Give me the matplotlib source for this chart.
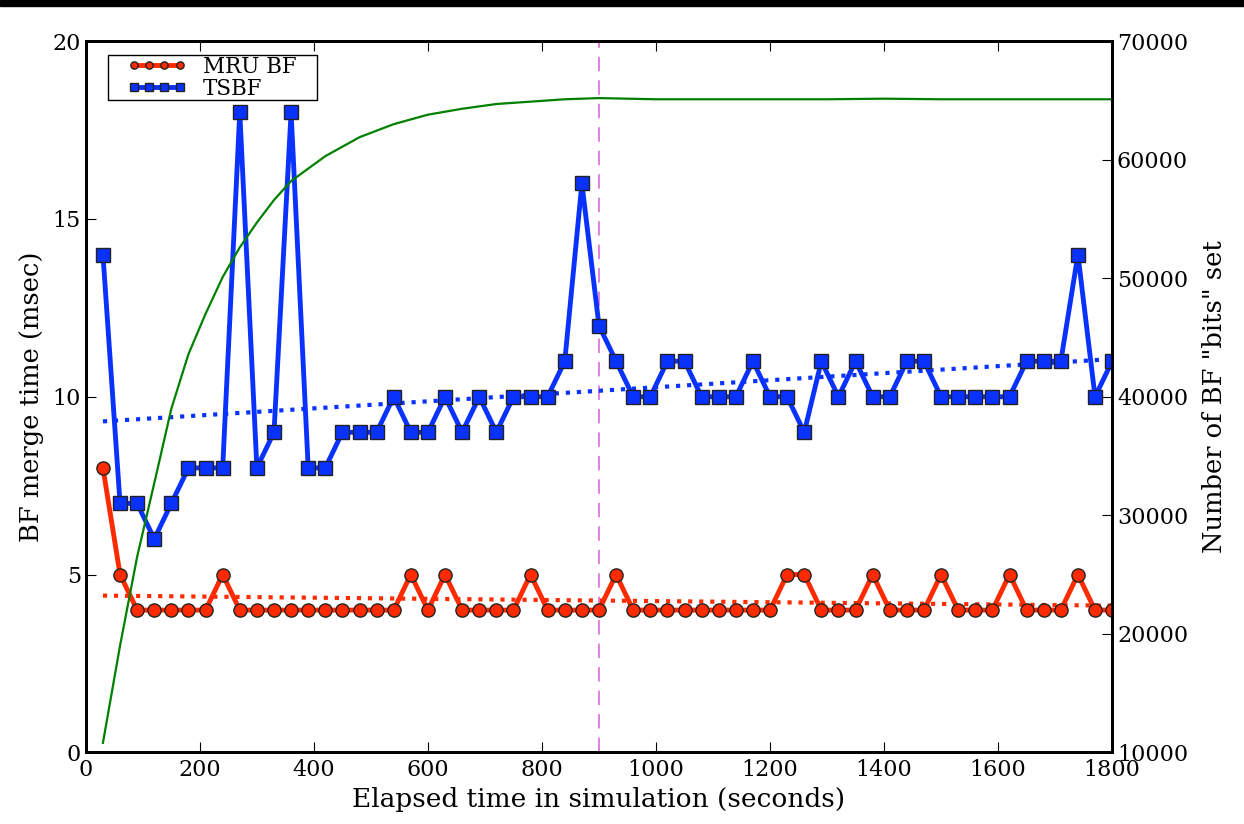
import numpy as np
import matplotlib
matplotlib.use('Agg')
import matplotlib.pyplot as plt
from matplotlib.patches import Rectangle

plt.rcParams['font.family'] = 'DejaVu Serif'
plt.rcParams['xtick.direction'] = 'in'
plt.rcParams['ytick.direction'] = 'in'

# sample times (seconds)
times = list(range(30, 1801, 30))

mru_bf = [8, 5, 4, 4, 4, 4, 4, 5, 4, 4,
          4, 4, 4, 4, 4, 4, 4, 4, 5, 4,
          5, 4, 4, 4, 4, 5, 4, 4, 4, 4,
          5, 4, 4, 4, 4, 4, 4, 4, 4, 4,
          5, 5, 4, 4, 4, 5, 4, 4, 4, 5,
          4, 4, 4, 5, 4, 4, 4, 5, 4, 4]

tsbf = [14, 7, 7, 6, 7, 8, 8, 8, 18, 8,
        9, 18, 8, 8, 9, 9, 9, 10, 9, 9,
        10, 9, 10, 9, 10, 10, 10, 11, 16, 12,
        11, 10, 10, 11, 11, 10, 10, 10, 11, 10,
        10, 9, 11, 10, 11, 10, 10, 11, 11, 10,
        10, 10, 10, 10, 11, 11, 11, 14, 10, 11]

# number of BF bits set (right axis)
bits_t = [30, 60, 90, 120, 150, 180, 210, 240, 270, 300, 330, 360, 420, 480,
          540, 600, 660, 720, 780, 840, 900, 1000, 1100, 1200, 1300, 1400,
          1500, 1600, 1700, 1800]
bits_set = [10800, 19000, 26500, 32700, 39000, 43600, 47000, 50100, 52600,
            54700, 56600, 58200, 60300, 61900, 63000, 63800, 64300, 64700,
            64900, 65100, 65200, 65100, 65100, 65100, 65100, 65150, 65100,
            65100, 65100, 65100]

marker_time = 900

red = '#ff2a00'
blue = '#0a32ff'

fig = plt.figure(figsize=(12.44, 8.24), dpi=100)
ax = fig.add_axes([0.069, 0.087, 0.825, 0.863])

ax.plot(times, mru_bf, '-o', color=red, lw=3.5, ms=9.5, mec='#222222',
        mew=1, label='MRU BF', zorder=4)
ax.plot(times, tsbf, '-s', color=blue, lw=3.5, ms=9.5, mec='#222222',
        mew=1, label='TSBF', zorder=4)

t = np.array(times)
for vals, c in ((mru_bf, red), (tsbf, blue)):
    k, b = np.polyfit(t, vals, 1)
    ax.plot(t, k * t + b, ':', color=c, lw=3, zorder=3)

ax.axvline(marker_time, color='#dd77dd', ls='--', lw=1.3, dashes=(8, 5))

ax.set_xlim(0, 1800)
ax.set_ylim(0, 20)
ax.set_xticks(range(0, 1801, 200))
ax.set_yticks([0, 5, 10, 15, 20])
ax.tick_params(labelsize=16, length=7, top=True)
ax.tick_params(axis='x', pad=5)
ax.set_xlabel('Elapsed time in simulation (seconds)', fontsize=19, labelpad=4)
ax.set_ylabel('BF merge time (msec)', fontsize=18.5, labelpad=6)

# legend box drawn by hand: wide side padding, tight top/bottom
ax.add_patch(Rectangle((0.0214, 0.917), 0.2037, 0.063, transform=ax.transAxes,
                       facecolor='white', edgecolor='black', lw=1, zorder=9))
leg = ax.legend(loc='center', bbox_to_anchor=(0.1233, 0.9485),
                numpoints=4, markerscale=0.55, fontsize=15.5, frameon=False,
                borderpad=0, labelspacing=0.0, handlelength=2.7,
                handletextpad=0.8, borderaxespad=0)
leg.set_zorder(10)

ax2 = ax.twinx()
ax2.plot(bits_t, bits_set, '-', color='green', lw=1.6)
ax2.set_ylim(10000, 70000)
ax2.set_yticks(range(10000, 70001, 10000))
ax2.tick_params(labelsize=16, length=7)
ax2.set_ylabel('Number of BF "bits" set', fontsize=18.5, labelpad=10)

for a in (ax, ax2):
    for s in a.spines.values():
        s.set_linewidth(2)

fig.patches.append(Rectangle((0, 1 - 6 / 824), 1, 6 / 824, transform=fig.transFigure,
                             color='black', zorder=10))

fig.savefig('out.png', dpi=100)
